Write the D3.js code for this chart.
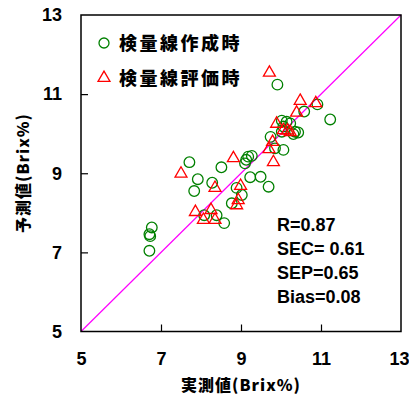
<!DOCTYPE html>
<html>
<head>
<meta charset="utf-8">
<script src="https://cdn.jsdelivr.net/npm/d3@7"></script>
<style>
  body { margin: 0; background: #fff; }
  svg text { font-family: "Liberation Sans", Arial, "Noto Sans CJK JP", sans-serif; font-weight: bold; }
  .jp { font-family: "Noto Sans CJK JP", sans-serif; font-weight: 900; }
</style>
</head>
<body>
<div id="chart"></div>
<script>
// axis ticks
const tickValues = [5, 7, 9, 11, 13];

// calibration set (circles): measured, predicted
const calX = [6.77, 6.71, 6.73, 6.71, 7.71, 7.92, 7.83, 8.28, 8.51, 9.13, 9.18, 9.27, 9.10, 9.23,
              9.49, 9.69, 8.89, 9.02, 8.77, 8.08, 8.39, 8.58, 9.91, 10.91, 10.58, 11.23, 10.02,
              10.14, 10.23, 10.06, 10.35, 10.43, 10.02, 10.31, 9.74, 9.85, 10.06];
const calY = [7.63, 7.46, 7.41, 7.04, 9.28, 8.85, 8.55, 8.76, 9.15, 9.34, 9.42, 9.44, 9.25, 8.90,
              8.91, 8.66, 8.63, 8.45, 8.24, 7.94, 7.94, 7.74, 11.24, 10.74, 10.56, 10.36, 10.33,
              10.30, 10.26, 10.18, 10.05, 10.03, 10.05, 9.99, 9.92, 9.63, 9.59];

// validation set (triangles): measured, predicted
const valX = [7.50, 8.81, 7.86, 8.06, 8.25, 8.35, 8.99, 8.93, 8.89, 9.71, 10.48, 10.87, 10.39,
              9.89, 10.06, 10.16, 10.23, 9.79, 9.70, 9.81, 8.35];
const valY = [8.99, 9.38, 8.02, 7.82, 8.07, 7.82, 8.68, 8.32, 8.19, 11.54, 10.83, 10.77, 10.53,
              10.25, 10.09, 10.08, 10.04, 9.79, 9.61, 9.28, 8.63];

const legendLabels = ["検量線作成時", "検量線評価時"];
const statsLabels = ["R=0.87", "SEC= 0.61", "SEP=0.65", "Bias=0.08"];

const width = 409, height = 396;
const svg = d3.select("#chart").append("svg")
    .attr("width", width)
    .attr("height", height);

const x = d3.scaleLinear().domain([5, 13]).range([81, 401]);
const y = d3.scaleLinear().domain([5, 13]).range([331.5, 15]);

// 1:1 line
svg.append("line")
    .attr("x1", x(5)).attr("y1", y(5))
    .attr("x2", x(13)).attr("y2", y(13))
    .attr("stroke", "#ff00ff")
    .attr("stroke-width", 1.2);

// axes with inward ticks
const xAxis = svg.append("g")
    .attr("transform", `translate(0,${y(5)})`)
    .call(d3.axisBottom(x).tickValues(tickValues).tickSizeInner(-7).tickSizeOuter(0).tickPadding(21));
const yAxis = svg.append("g")
    .attr("transform", `translate(${x(5)},0)`)
    .call(d3.axisLeft(y).tickValues(tickValues).tickSizeInner(-7).tickSizeOuter(0).tickPadding(19));

[xAxis, yAxis].forEach(g => {
    g.select(".domain").remove();
    g.selectAll("line").attr("stroke", "#000").attr("stroke-width", 1.2);
    g.selectAll("text").attr("fill", "#000").style("font-size", "18px");
});
// no tick marks at frame corners
xAxis.selectAll(".tick").filter(d => d == 5 || d == 13).select("line").remove();
yAxis.selectAll(".tick").filter(d => d == 5 || d == 13).select("line").remove();
// keep the last x label inside the window
xAxis.selectAll(".tick").filter(d => d == 13).select("text").attr("text-anchor", "end").attr("x", 8);

// frame
svg.append("rect")
    .attr("x", x(5)).attr("y", y(13))
    .attr("width", x(13) - x(5)).attr("height", y(5) - y(13))
    .attr("fill", "none")
    .attr("stroke", "#000")
    .attr("stroke-width", 1.5);

// calibration points
svg.append("g").selectAll("circle")
    .data(calX.map((d, i) => [d, calY[i]]))
    .join("circle")
    .attr("cx", d => x(d[0]))
    .attr("cy", d => y(d[1]))
    .attr("r", 5.3)
    .attr("fill", "none")
    .attr("stroke", "#008000")
    .attr("stroke-width", 1.3);

// validation points
const tri = d3.symbol().type(d3.symbolTriangle).size(62);
svg.append("g").selectAll("path")
    .data(valX.map((d, i) => [d, valY[i]]))
    .join("path")
    .attr("d", tri)
    .attr("transform", d => `translate(${x(d[0])},${y(d[1])})`)
    .attr("fill", "none")
    .attr("stroke", "#ff0000")
    .attr("stroke-width", 1.3);

// legend
svg.append("circle")
    .attr("cx", 104).attr("cy", 43).attr("r", 5)
    .attr("fill", "none").attr("stroke", "#008000").attr("stroke-width", 1.3);
svg.append("path")
    .attr("d", tri)
    .attr("transform", "translate(104,78)")
    .attr("fill", "none").attr("stroke", "#ff0000").attr("stroke-width", 1.3);
svg.selectAll(".leg")
    .data(legendLabels)
    .join("text")
    .attr("class", "leg jp")
    .attr("x", 119)
    .attr("y", (d, i) => 50 + i * 35)
    .style("font-size", "18px")
    .style("letter-spacing", "2.5px")
    .text(d => d);

// stats
svg.selectAll(".stat")
    .data(statsLabels)
    .join("text")
    .attr("class", "stat")
    .attr("x", 277)
    .attr("y", (d, i) => 231 + i * 24)
    .style("font-size", "18px")
    .text(d => d);

// axis titles
svg.append("text")
    .attr("class", "jp")
    .attr("x", 241).attr("y", 391)
    .attr("text-anchor", "middle")
    .style("font-size", "16px")
    .style("letter-spacing", "1px")
    .text("実測値(Brix%)");

svg.append("text")
    .attr("class", "jp")
    .attr("transform", "translate(29,173) rotate(-90)")
    .attr("text-anchor", "middle")
    .style("font-size", "16px")
    .style("letter-spacing", "1px")
    .text("予測値(Brix%)");
</script>
</body>
</html>
